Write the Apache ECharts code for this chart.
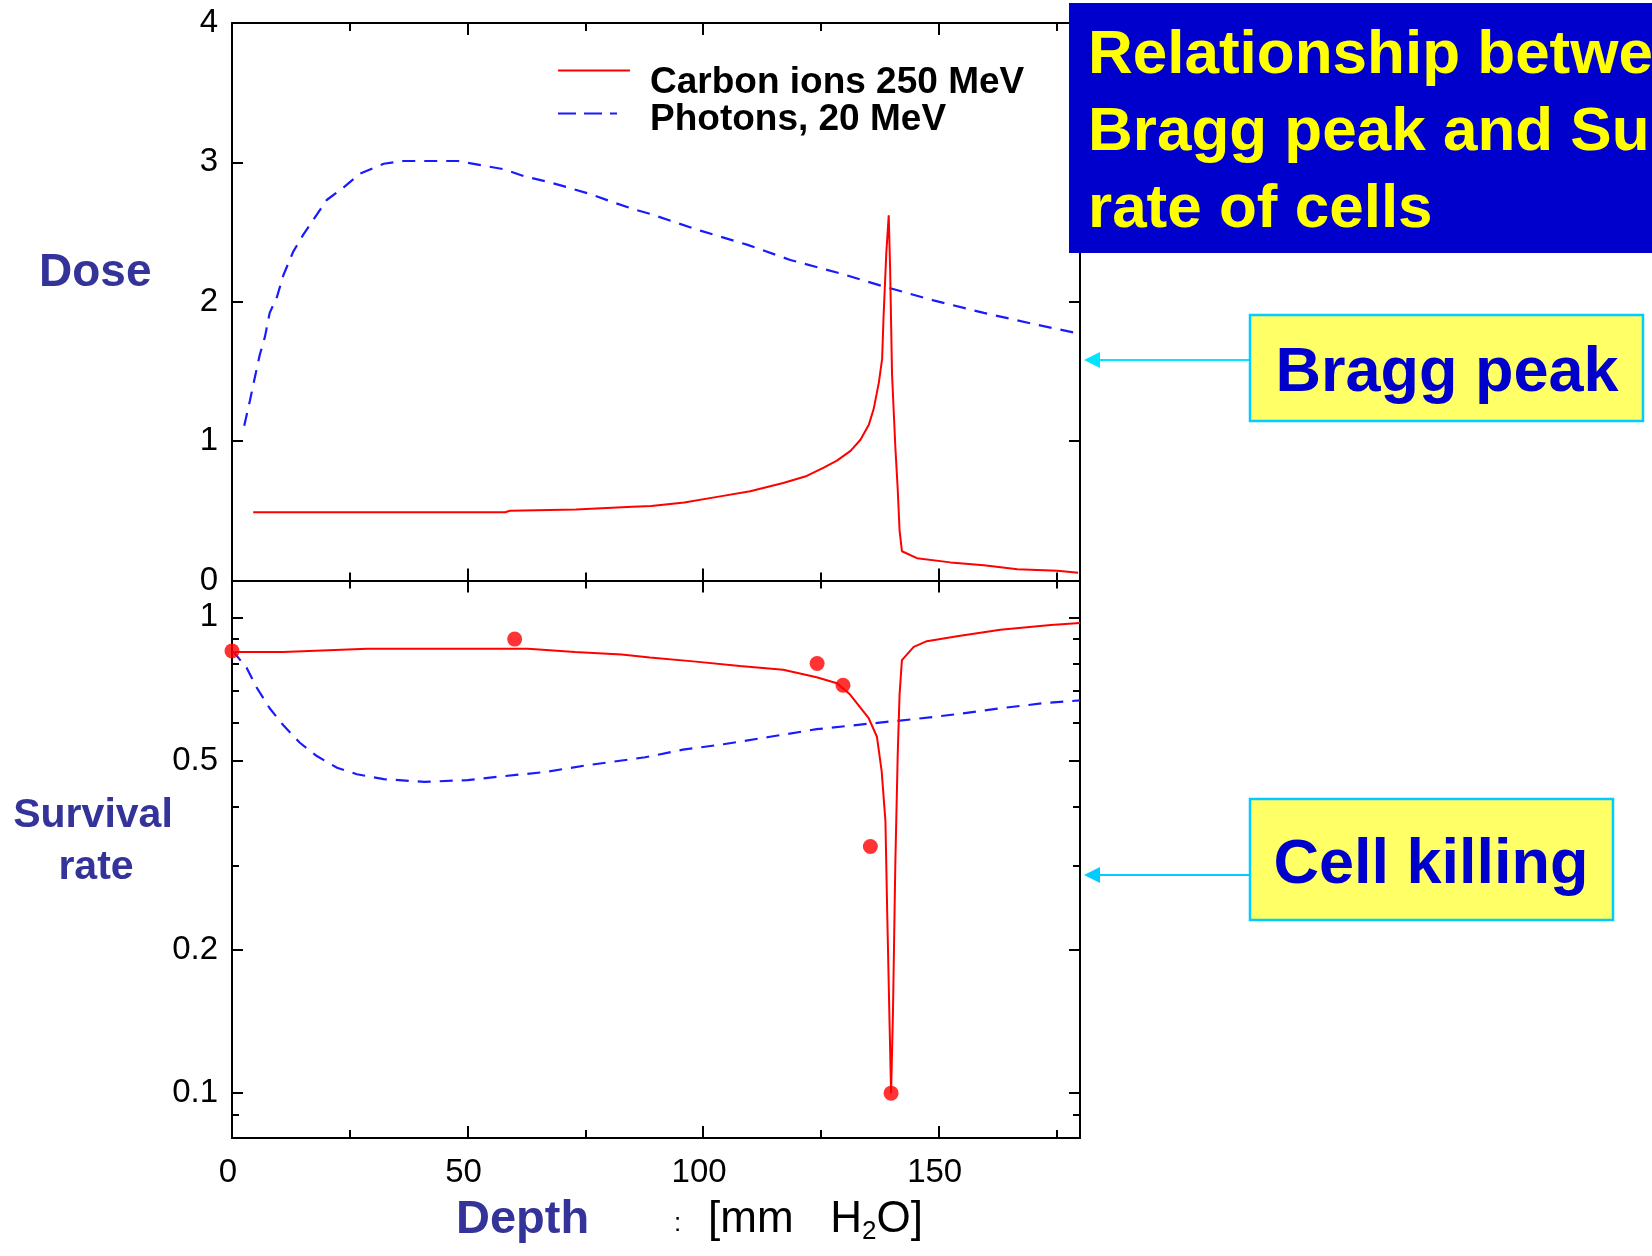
<!DOCTYPE html>
<html><head><meta charset="utf-8">
<script src="https://cdn.jsdelivr.net/npm/echarts@6/dist/echarts.min.js"></script>
<style>html,body{margin:0;padding:0;background:#fff}#c{width:1652px;height:1256px}</style>
</head><body><div id="c"></div>
<script>
// ---------- data ----------
const depthRange = [0, 180];
const depthLabels = [0, 50, 100, 150];
const depthMajorTicks = [50, 100, 150];
const depthMinorTicks = [25, 75, 125, 175];
const doseRange = [0, 4];
const survivalRange = [0.0805, 1.195];
const survivalLabels = [0.1, 0.2, 0.5, 1];
const survivalMinorTicks = [0.09, 0.3, 0.4, 0.6, 0.7, 0.8, 0.9];

const legendNames = ['Carbon ions 250 MeV', 'Photons, 20 MeV'];

const carbonDose = [[4.5,0.49],[20,0.49],[40,0.49],[58,0.49],[59,0.50],[73,0.51],[85,0.53],[89,0.535],[96,0.56],[103,0.60],[110,0.64],[117,0.70],[122,0.75],[125.6,0.81],[128.4,0.86],[131.3,0.93],[133.4,1.01],[135.2,1.12],[136.2,1.23],[137.3,1.42],[138,1.59],[138.3,1.89],[138.9,2.36],[139.4,2.62],[139.7,2.23],[140.1,1.48],[140.8,0.96],[141.3,0.66],[141.7,0.36],[142.2,0.21],[145.4,0.16],[152.5,0.13],[159.6,0.11],[166.7,0.08],[175.2,0.07],[179.6,0.055]];

const photonDose = [[2.6,1.11],[3.8,1.29],[4.8,1.45],[5.9,1.62],[7,1.75],[8,1.92],[9.5,2.03],[10.9,2.19],[13,2.36],[15.1,2.48],[17.3,2.59],[20.1,2.73],[23.7,2.82],[27.2,2.92],[32.2,2.99],[36.5,3.01],[42.9,3.01],[47.9,3.01],[52.8,2.98],[57.8,2.95],[62.1,2.9],[67.1,2.86],[71.3,2.82],[76.3,2.77],[81.2,2.71],[85.6,2.66],[88.8,2.63],[99.4,2.51],[109.3,2.41],[118.5,2.3],[128.4,2.21],[138.3,2.11],[148.9,2.01],[159.6,1.92],[170.2,1.84],[180,1.77]];

const carbonSurvival = [[0,0.846],[10.9,0.846],[11,0.854],[28.7,0.859],[62.8,0.859],[63.2,0.851],[72.8,0.846],[82.7,0.835],[88.7,0.823],[97.9,0.808],[107.8,0.79],[117,0.776],[124.1,0.748],[128.4,0.727],[131.2,0.688],[135.1,0.615],[136.9,0.561],[137.9,0.475],[138.7,0.373],[139.1,0.234],[139.6,0.137],[139.9,0.1],[140.3,0.148],[140.8,0.304],[141.3,0.511],[141.7,0.688],[142.2,0.813],[144.7,0.867],[147.5,0.891],[153.9,0.912],[163.1,0.942],[173.8,0.964],[180,0.973]];

const photonSurvival = [[0,0.85],[1.1,0.828],[3.1,0.783],[5.2,0.713],[8,0.644],[10.9,0.593],[14.4,0.545],[18,0.511],[22.3,0.483],[26.5,0.468],[32.2,0.457],[40.8,0.451],[50,0.455],[57.1,0.463],[66.4,0.473],[74.9,0.488],[87.7,0.508],[95.7,0.527],[104.3,0.541],[114.2,0.561],[124.1,0.582],[135.5,0.598],[145.4,0.612],[154.6,0.627],[163.1,0.644],[172.3,0.66],[180,0.669]];

const carbonMeasured = [[0,0.85],[60,0.90],[124.2,0.80],[129.7,0.72],[135.5,0.33],[139.9,0.10]];

// ---------- helpers ----------
const FONT = '"Liberation Sans", Arial, sans-serif';
const AXC = '#000';
const RED = '#ff0000';
const BLUE = '#1a1aff';
const lg = v => Math.log10(v);

function xAx(grid, pos, ticks, len, showLine, labels) {
  return {
    type: 'value', gridIndex: grid, position: pos, min: depthRange[0], max: depthRange[1],
    axisLine: {show: showLine, onZero: false, lineStyle: {color: AXC, width: 2}},
    axisTick: {show: true, inside: true, length: len, customValues: ticks, lineStyle: {color: AXC, width: 2}},
    axisLabel: labels ? {show: true, customValues: labels, margin: 18, fontSize: 33, fontFamily: FONT, color: '#000', padding: [0, 8, 0, 0]} : {show: false},
    splitLine: {show: false}
  };
}
function yLogTickAx(pos, ticks, len, labels) {
  return {
    type: 'value', gridIndex: 1, position: pos, min: lg(survivalRange[0]), max: lg(survivalRange[1]),
    axisLine: {show: false, onZero: false},
    axisTick: {show: true, inside: true, length: len, customValues: ticks.map(lg), lineStyle: {color: AXC, width: 2}},
    axisLabel: labels ? {show: true, customValues: labels.map(lg), margin: 14, fontSize: 33, fontFamily: FONT, color: '#000',
      formatter: v => String(parseFloat(Math.pow(10, v).toFixed(2)))} : {show: false},
    splitLine: {show: false}
  };
}
function txt(text, x, y, font, fill, align, z) {
  return {type: 'text', z: z || 10, style: {text: text, x: x, y: y, font: font, fill: fill,
    textAlign: align, textVerticalAlign: 'middle', align: align, verticalAlign: 'middle'}};
}

const option = {
  backgroundColor: '#fff',
  animation: false,
  grid: [
    {left: 232, top: 23, width: 848, height: 557.5},
    {left: 232, top: 580.5, width: 848, height: 557.5}
  ],
  xAxis: [
    xAx(0, 'bottom', depthMinorTicks, 8, true, null),
    xAx(0, 'bottom', depthMajorTicks, 12, false, null),
    xAx(0, 'top', depthMinorTicks, 8, true, null),
    xAx(0, 'top', depthMajorTicks, 12, false, null),
    xAx(1, 'bottom', depthMinorTicks, 8, true, depthLabels),
    xAx(1, 'bottom', depthMajorTicks, 12, false, null),
    xAx(1, 'top', depthMinorTicks, 8, true, null),
    xAx(1, 'top', depthMajorTicks, 12, false, null)
  ],
  yAxis: [
    {type: 'value', gridIndex: 0, position: 'left', min: doseRange[0], max: doseRange[1], interval: 1,
     axisLine: {show: true, onZero: false, lineStyle: {color: AXC, width: 2}},
     axisTick: {show: true, inside: true, length: 11, lineStyle: {color: AXC, width: 2}},
     axisLabel: {show: true, margin: 14, fontSize: 33, fontFamily: FONT, color: '#000'},
     splitLine: {show: false}},
    {type: 'value', gridIndex: 0, position: 'right', min: doseRange[0], max: doseRange[1], interval: 1,
     axisLine: {show: true, onZero: false, lineStyle: {color: AXC, width: 2}},
     axisTick: {show: true, inside: true, length: 11, lineStyle: {color: AXC, width: 2}},
     axisLabel: {show: false}, splitLine: {show: false}},
    {type: 'log', logBase: 10, gridIndex: 1, position: 'left', min: survivalRange[0], max: survivalRange[1],
     axisLine: {show: true, onZero: false, lineStyle: {color: AXC, width: 2}},
     axisTick: {show: false}, axisLabel: {show: false}, splitLine: {show: false}, minorTick: {show: false}},
    {type: 'log', logBase: 10, gridIndex: 1, position: 'right', min: survivalRange[0], max: survivalRange[1],
     axisLine: {show: true, onZero: false, lineStyle: {color: AXC, width: 2}},
     axisTick: {show: false}, axisLabel: {show: false}, splitLine: {show: false}, minorTick: {show: false}},
    yLogTickAx('left', survivalLabels, 11, survivalLabels),
    yLogTickAx('left', survivalMinorTicks, 7, null),
    yLogTickAx('right', survivalLabels, 11, null),
    yLogTickAx('right', survivalMinorTicks, 7, null)
  ],
  series: [
    {name: legendNames[0], type: 'line', xAxisIndex: 0, yAxisIndex: 0, data: carbonDose, showSymbol: false, symbol: 'none',
     lineStyle: {color: RED, width: 2}, itemStyle: {color: RED}, z: 4},
    {name: legendNames[1], type: 'line', xAxisIndex: 0, yAxisIndex: 0, data: photonDose, showSymbol: false, symbol: 'none',
     lineStyle: {color: BLUE, width: 2.2, type: [13, 9]}, itemStyle: {color: BLUE}, z: 3},
    {name: legendNames[0], type: 'line', xAxisIndex: 4, yAxisIndex: 2, data: carbonSurvival, showSymbol: false, symbol: 'none',
     lineStyle: {color: RED, width: 2}, itemStyle: {color: RED}, z: 4},
    {name: legendNames[1], type: 'line', xAxisIndex: 4, yAxisIndex: 2, data: photonSurvival, showSymbol: false, symbol: 'none',
     lineStyle: {color: BLUE, width: 2.2, type: [13, 9]}, itemStyle: {color: BLUE}, z: 3},
    {name: 'measured', type: 'scatter', xAxisIndex: 4, yAxisIndex: 2, data: carbonMeasured, symbol: 'circle', symbolSize: 15,
     itemStyle: {color: RED}, clip: true, z: 5}
  ],
  graphic: [
    // legend
    {type: 'line', shape: {x1: 558, y1: 70.5, x2: 630, y2: 70.5}, style: {stroke: RED, lineWidth: 2}},
    {type: 'line', shape: {x1: 558, y1: 113.5, x2: 617, y2: 113.5}, style: {stroke: BLUE, lineWidth: 2.2, lineDash: [18, 8]}},
    txt(legendNames[0], 650, 82.5, 'bold 37px ' + FONT, '#000', 'left'),
    txt(legendNames[1], 650, 119.5, 'bold 37px ' + FONT, '#000', 'left'),
    // axis names
    txt('Dose', 39, 273.5, 'bold 46px ' + FONT, '#333399', 'left'),
    txt('Survival', 93, 816, 'bold 41px ' + FONT, '#333399', 'center'),
    txt('rate', 96, 868, 'bold 41px ' + FONT, '#333399', 'center'),
    txt('Depth', 456, 1220, 'bold 47px ' + FONT, '#333399', 'left'),
    txt(':', 674, 1224, '26px ' + FONT, '#000', 'left'),
    {type: 'text', style: {text: '{a|[mm   H}{s|2}{a|O]}', x: 708, y: 1220, textAlign: 'left', textVerticalAlign: 'middle', align: 'left', verticalAlign: 'middle',
      rich: {a: {fontSize: 44, fontFamily: FONT, color: '#000', lineHeight: 50}, s: {fontSize: 26, fontFamily: FONT, color: '#000', verticalAlign: 'bottom', lineHeight: 50}}}},
    // title box
    {type: 'rect', z: 100, shape: {x: 1069, y: 3, width: 600, height: 250}, style: {fill: '#0000CC'}},
    txt('Relationship between', 1088, 55.5, 'bold 62px ' + FONT, '#FFFF00', 'left', 101),
    txt('Bragg peak and Survival', 1088, 132.5, 'bold 62px ' + FONT, '#FFFF00', 'left', 101),
    txt('rate of cells', 1088, 209.5, 'bold 62px ' + FONT, '#FFFF00', 'left', 101),
    // Bragg peak callout
    {type: 'line', shape: {x1: 1098, y1: 360, x2: 1250, y2: 360}, style: {stroke: '#00E5FF', lineWidth: 2}},
    {type: 'polygon', shape: {points: [[1084, 360], [1100, 352], [1100, 368]]}, style: {fill: '#00E5FF'}},
    {type: 'rect', shape: {x: 1250, y: 315, width: 393, height: 106}, style: {fill: '#FFFF66', stroke: '#00CCFF', lineWidth: 2.5}},
    txt('Bragg peak', 1447, 374, 'bold 63px ' + FONT, '#0000CC', 'center'),
    // Cell killing callout
    {type: 'line', shape: {x1: 1098, y1: 875, x2: 1250, y2: 875}, style: {stroke: '#00CCFF', lineWidth: 2}},
    {type: 'polygon', shape: {points: [[1084, 875], [1100, 867], [1100, 883]]}, style: {fill: '#00CCFF'}},
    {type: 'rect', shape: {x: 1250, y: 799, width: 363, height: 121}, style: {fill: '#FFFF66', stroke: '#00CCFF', lineWidth: 2.5}},
    txt('Cell killing', 1431, 866, 'bold 63px ' + FONT, '#0000CC', 'center')
  ]
};
const chart = echarts.init(document.getElementById('c'), null, {renderer: 'canvas', width: 1652, height: 1256});
chart.setOption(option);
</script>
</body></html>
